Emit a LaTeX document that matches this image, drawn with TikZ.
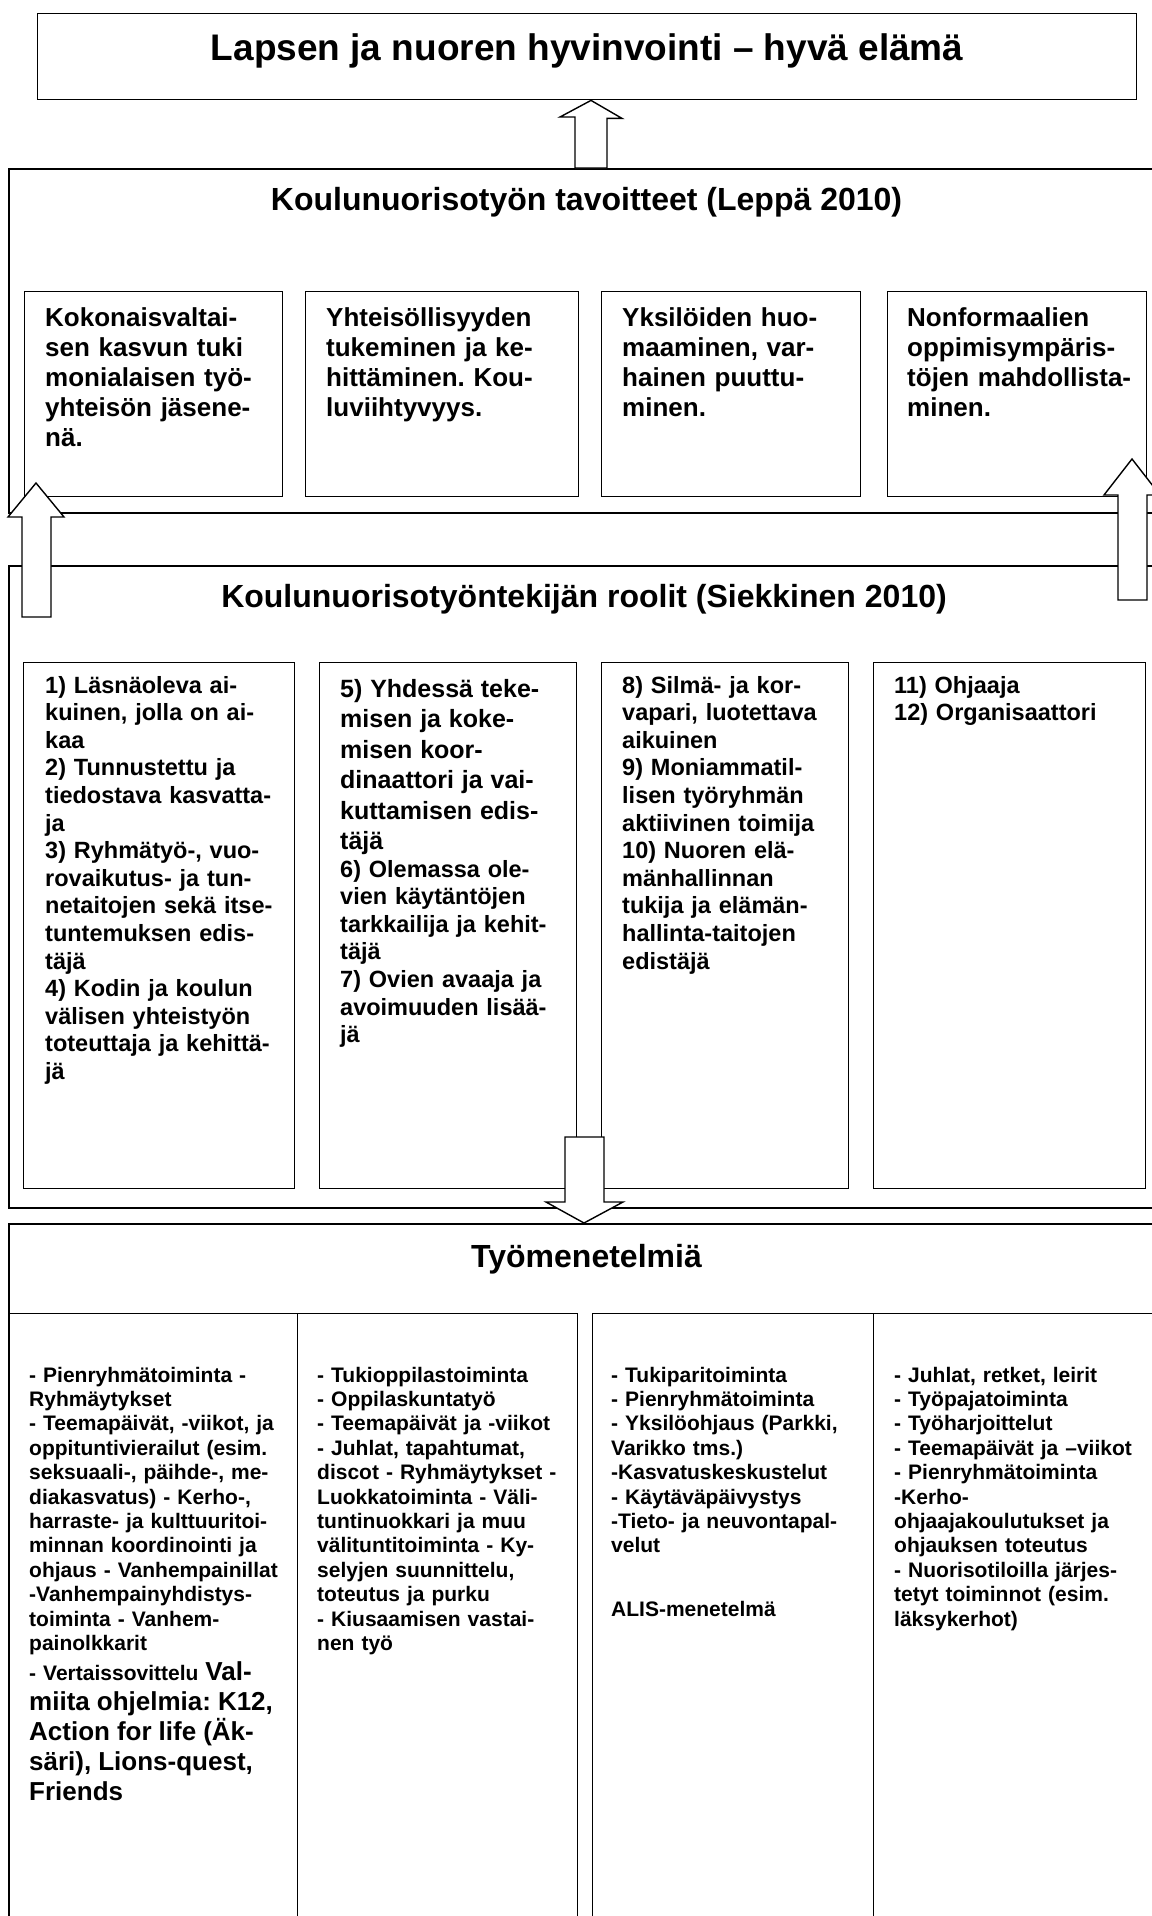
\documentclass[tikz,border=0pt]{standalone}
\usepackage{fontspec}
\setmainfont{Liberation Sans}
\usepackage{tikz}
\usetikzlibrary{calc}
\frenchspacing

\begin{document}
\begin{tikzpicture}[
        x=1pt, y=-1pt,
        % 定义通用方框样式
        box/.style={
            rectangle,
            draw=black,          % 边框颜色
            line width=1.4pt,    % 边框粗细
            anchor=north west,
            inner sep=0pt
        },
        % 外层大框
        outerbox/.style={
            box,
            line width=2pt
        },
        % 标题文字
        heading/.style={
            anchor=base,
            inner sep=0pt,
            font=\bfseries\fontsize{32}{38}\selectfont
        },
        % 框内文字（三种字号）
        goaltext/.style={
            anchor=base west, inner sep=0pt, align=left, text width=300pt,
            font=\bfseries\fontsize{26}{30}\selectfont
        },
        roletext/.style={
            anchor=base west, inner sep=0pt, align=left, text width=300pt,
            font=\bfseries\fontsize{23.5}{27.6}\selectfont
        },
        worktext/.style={
            anchor=base west, inner sep=0pt, align=left, text width=300pt,
            font=\bfseries\fontsize{21}{24.4}\selectfont
        },
        % 空心箭头样式
        blockarrow/.style={
            draw=black,
            fill=white,
            line width=1.4pt
        }
    ]

    % ================= 画布大小 =================
    \fill[white] (0,0) rectangle (1151,1916);
    \useasboundingbox (0,0) rectangle (1151,1916);

    % ================= 定义节点 =================
    % 1. 顶部：最终目标
    \node[box, minimum width=1099pt, minimum height=86pt] (hyva) at (37,13) {};
    \node[heading, font=\bfseries\fontsize{37}{44}\selectfont] (hyvat)
        at ($(hyva.north)+(0,48)$) {Lapsen ja nuoren hyvinvointi – hyvä elämä};

    % 2. 目标层
    \node[outerbox, minimum width=1157pt, minimum height=344pt] (goals) at (8,168) {};
    \node[heading] (goalst) at (586.5,210) {Koulunuorisotyön tavoitteet (Leppä 2010)};
    \node[box, minimum width=258pt, minimum height=205pt] (g1) at (24,291) {};
    \node[box, minimum width=273pt, minimum height=205pt] (g2) at (305,291) {};
    \node[box, minimum width=259pt, minimum height=205pt] (g3) at (601,291) {};
    \node[box, minimum width=259pt, minimum height=205pt] (g4) at (887,291) {};
    \node[goaltext] (g1t) at ($(g1.north west)+(21,35)$)
        {Kokonaisvaltai-\\sen kasvun tuki\\monialaisen työ-\\yhteisön jäsene-\\nä.};
    \node[goaltext] (g2t) at ($(g2.north west)+(21,35)$)
        {Yhteisöllisyyden\\tukeminen ja ke-\\hittäminen. Kou-\\luviihtyvyys.};
    \node[goaltext] (g3t) at ($(g3.north west)+(21,35)$)
        {Yksilöiden huo-\\maaminen, var-\\hainen puuttu-\\minen.};
    \node[goaltext] (g4t) at ($(g4.north west)+(20,35)$)
        {Nonformaalien\\oppimisympäris-\\töjen mahdollista-\\minen.};

    % 3. 角色层
    \node[outerbox, minimum width=1157pt, minimum height=642pt] (roles) at (8,565) {};
    \node[heading] (rolest) at (584,607) {Koulunuorisotyöntekijän roolit (Siekkinen 2010)};
    \node[box, minimum width=271pt, minimum height=526pt] (r1) at (23,662) {};
    \node[box, minimum width=257pt, minimum height=526pt] (r2) at (319,662) {};
    \node[box, minimum width=247pt, minimum height=526pt] (r3) at (601,662) {};
    \node[box, minimum width=272pt, minimum height=526pt] (r4) at (873,662) {};
    \node[roletext] (r1t) at ($(r1.north west)+(22,31)$)
        {1) Läsnäoleva ai-\\kuinen, jolla on ai-\\kaa\\2) Tunnustettu ja\\tiedostava kasvatta-\\ja\\%
         3) Ryhmätyö-, vuo-\\rovaikutus- ja tun-\\netaitojen sekä itse-\\tuntemuksen edis-\\täjä\\%
         4) Kodin ja koulun\\välisen yhteistyön\\toteuttaja ja kehittä-\\jä};
    \node[roletext] (r2t) at ($(r2.north west)+(21,35)$)
        {{\fontsize{25}{30.5}\selectfont 5) Yhdessä teke-\\misen ja koke-\\misen koor-\\dinaattori ja vai-\\kuttamisen edis-\\täjä\par}%
         6) Olemassa ole-\\vien käytäntöjen\\tarkkailija ja kehit-\\täjä\\7) Ovien avaaja ja\\avoimuuden lisää-\\jä};
    \node[roletext] (r3t) at ($(r3.north west)+(21,31)$)
        {8) Silmä- ja kor-\\vapari, luotettava\\aikuinen\\9) Moniammatil-\\lisen työryhmän\\aktiivinen toimija\\%
         10) Nuoren elä-\\mänhallinnan\\tukija ja elämän-\\hallinta-taitojen\\edistäjä};
    \node[roletext] (r4t) at ($(r4.north west)+(21,31)$)
        {11) Ohjaaja\\12) Organisaattori};

    % 4. 工作方法层
    \node[outerbox, minimum width=1157pt, minimum height=720pt] (methods) at (8,1223) {};
    \node[heading] (methodst) at (586.5,1267) {Työmenetelmiä};
    \node[box, minimum width=289pt, minimum height=630pt] (m1) at (8,1313) {};
    \node[box, minimum width=280pt, minimum height=630pt] (m2) at (297,1313) {};
    \node[box, minimum width=281pt, minimum height=630pt] (m3) at (592,1313) {};
    \node[box, minimum width=292pt, minimum height=630pt] (m4) at (873,1313) {};
    \node[worktext] (m1t) at ($(m1.north west)+(21,69)$)
        {- Pienryhmätoiminta -\\Ryhmäytykset\\- Teemapäivät, -viikot, ja\\oppituntivierailut (esim.\\%
         seksuaali-, päihde-, me-\\diakasvatus) - Kerho-,\\harraste- ja kulttuuritoi-\\%
         minnan koordinointi ja\\ohjaus - Vanhempainillat\\-Vanhempainyhdistys-\\%
         toiminta - Vanhem-\\painolkkarit\par
         {\fontsize{26}{30}\selectfont {\fontsize{21}{30}\selectfont - Vertaissovittelu} Val-\\%
         miita ohjelmia: K12,\\Action for life (Äk-\\säri), Lions-quest,\\Friends\par}};
    \node[worktext] (m2t) at ($(m2.north west)+(20,69)$)
        {- Tukioppilastoiminta\\- Oppilaskuntatyö\\- Teemapäivät ja -viikot\\- Juhlat, tapahtumat,\\%
         discot - Ryhmäytykset -\\Luokkatoiminta - Väli-\\tuntinuokkari ja muu\\%
         välituntitoiminta - Ky-\\selyjen suunnittelu,\\toteutus ja purku\\%
         - Kiusaamisen vastai-\\nen työ};
    \node[worktext] (m3t) at ($(m3.north west)+(19,69)$)
        {- Tukiparitoiminta\\- Pienryhmätoiminta\\- Yksilöohjaus (Parkki,\\Varikko tms.)\\%
         -Kasvatuskeskustelut\\- Käytäväpäivystys\\-Tieto- ja neuvontapal-\\velut\\[39.5pt]%
         ALIS-menetelmä};
    \node[worktext] (m4t) at ($(m4.north west)+(21,69)$)
        {- Juhlat, retket, leirit\\- Työpajatoiminta\\- Työharjoittelut\\- Teemapäivät ja –viikot\\%
         - Pienryhmätoiminta\\-Kerho-\\ohjaajakoulutukset ja\\ohjauksen toteutus\\%
         - Nuorisotiloilla järjes-\\tetyt toiminnot (esim.\\läksykerhot)};

    % ================= 绘制空心箭头 =================
    \coordinate (up1) at (591,0);
    \coordinate (lup) at (36,483);
    \coordinate (rup) at (1132,459);
    \coordinate (dn) at (584,0);

    % 目标层 -> 顶部
    \draw[blockarrow] (hyva.south -| up1) -- ++(31,18) -- ++(-15,0)
        -- ($(goals.north -| up1)+(16,0)$) -- ++(-32,0) -- ++(0,-51) -- ++(-15,0) -- cycle;
    % 角色层 -> 目标层（左、右两个）
    \draw[blockarrow] (lup) -- ++(28,34) -- ++(-13,0) -- ++(0,100)
        -- ++(-29,0) -- ++(0,-100) -- ++(-14,0) -- cycle;
    \draw[blockarrow] (rup) -- ++(28,36) -- ++(-13,0) -- ++(0,105)
        -- ++(-29,0) -- ++(0,-105) -- ++(-14,0) -- cycle;
    % 角色层 -> 工作方法层
    \draw[blockarrow] (methods.north -| dn) -- ++(-38,-21) -- ++(19,0) -- ++(0,-65)
        -- ++(39,0) -- ++(0,65) -- ++(19,0) -- cycle;

\end{tikzpicture}
\end{document}
